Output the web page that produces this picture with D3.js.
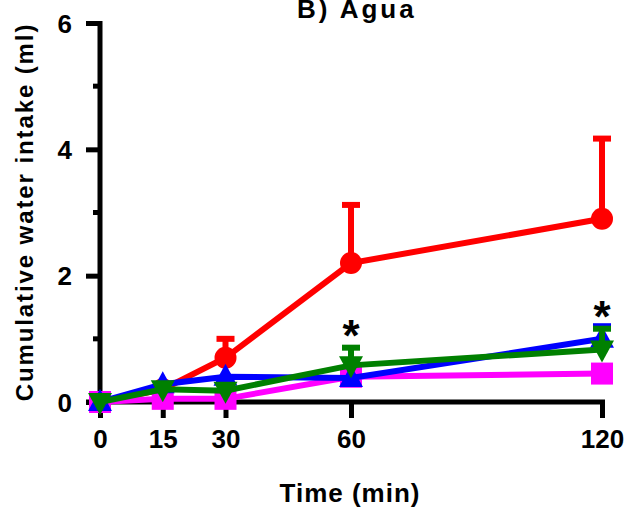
<!DOCTYPE html>
<html><head><meta charset="utf-8">
<script src="https://cdn.jsdelivr.net/npm/d3@7/dist/d3.min.js"></script>
<style>body{margin:0;background:#fff}svg{display:block;font-family:"Liberation Sans",Arial,sans-serif;font-weight:bold}</style>
</head><body>
<script>
const times = [0, 15, 30, 60, 120];
const xTicks = [0, 15, 30, 60, 120];
const yTicks = [0, 2, 4, 6];
const yMinor = [1, 3, 5];
const redVals = [0, 0.2, 0.7, 2.2, 2.9];
const redErr = [0, 0, 0.3, 0.92, 1.27];
const blueVals = [0, 0.28, 0.4, 0.38, 1.0];
const blueErr = [0, 0, 0, 0, 0.2];
const magentaVals = [0, 0.05, 0.05, 0.4, 0.45];
const magentaErr = [0, 0, 0, 0, 0];
const greenVals = [0, 0.2, 0.18, 0.58, 0.83];
const greenErr = [0, 0, 0, 0.28, 0.33];
const starTimes = [60, 120];
const starVals = [0.87, 1.17];

const W = 626, H = 509;
const svg = d3.select("body").append("svg").attr("width", W).attr("height", H);
const x = d3.scaleLinear().domain([0, 120]).range([100, 602]);
const y = d3.scaleLinear().domain([0, 6]).range([402, 23]);

// axes
const yAxis = d3.axisLeft(y).tickValues(yTicks).tickSize(14).tickSizeOuter(0).tickPadding(14).tickFormat(d3.format("d"));
const gy = svg.append("g").attr("transform", "translate(100,0)").call(yAxis);
gy.select(".domain").attr("stroke", "#000").attr("stroke-width", 5).attr("d", `M0,${y(6)-2}V${y(0)+2}`);
gy.selectAll(".tick line").attr("stroke", "#000").attr("stroke-width", 5);
gy.selectAll(".tick text").attr("font-size", 26).attr("font-weight", "bold").attr("fill", "#000").attr("font-family", "Liberation Sans, Arial").attr("dy", "0.35em");
svg.append("g").selectAll("line").data(yMinor).join("line")
  .attr("x1", 93).attr("x2", 100).attr("y1", d => y(d)).attr("y2", d => y(d))
  .attr("stroke", "#000").attr("stroke-width", 5);

const xAxis = d3.axisBottom(x).tickValues(xTicks).tickSize(16).tickSizeOuter(0).tickPadding(12);
const gx = svg.append("g").attr("transform", `translate(0,${y(0)})`).call(xAxis);
gx.select(".domain").attr("stroke", "#000").attr("stroke-width", 5).attr("d", `M86,0H605`);
gx.selectAll(".tick line").attr("stroke", "#000").attr("stroke-width", 5);
gx.selectAll(".tick text").attr("font-size", 26).attr("font-weight", "bold").attr("fill", "#000").attr("font-family", "Liberation Sans, Arial").attr("dy", "0.71em");

// labels
svg.append("text").attr("x", 297).attr("y", 18).attr("font-size", 26).attr("letter-spacing", 3).text("B) Agua");
svg.append("text").attr("x", 350).attr("y", 502).attr("text-anchor", "middle").attr("font-size", 26).attr("letter-spacing", 1).text("Time (min)");
svg.append("text").attr("transform", "translate(33,212) rotate(-90)").attr("text-anchor", "middle").attr("font-size", 24).attr("letter-spacing", 1.9).text("Cumulative water intake (ml)");

const series = [
  {name: "red", color: "#ff0000", vals: redVals, err: redErr, shape: "circle"},
  {name: "magenta", color: "#ff00ff", vals: magentaVals, err: magentaErr, shape: "square"},
  {name: "blue", color: "#0000ff", vals: blueVals, err: blueErr, shape: "up"},
  {name: "green", color: "#008000", vals: greenVals, err: greenErr, shape: "down"},
];
const line = d3.line().x(d => x(d.t)).y(d => y(d.v));
series.forEach(s => {
  const pts = times.map((t, i) => ({t, v: s.vals[i], e: s.err[i]}));
  const g = svg.append("g");
  pts.filter(p => p.e > 0).forEach(p => {
    g.append("line").attr("x1", x(p.t)).attr("x2", x(p.t)).attr("y1", y(p.v)).attr("y2", y(p.v + p.e)).attr("stroke", s.color).attr("stroke-width", 6);
    g.append("line").attr("x1", x(p.t) - 9).attr("x2", x(p.t) + 9).attr("y1", y(p.v + p.e)).attr("y2", y(p.v + p.e)).attr("stroke", s.color).attr("stroke-width", 6);
  });
  g.append("path").datum(pts).attr("d", line).attr("fill", "none").attr("stroke", s.color).attr("stroke-width", 6);
  pts.forEach(p => {
    const cx = x(p.t), cy = y(p.v);
    if (s.shape === "circle") g.append("circle").attr("cx", cx).attr("cy", cy).attr("r", 11).attr("fill", s.color);
    else if (s.shape === "square") g.append("rect").attr("x", cx - 11).attr("y", cy - 11).attr("width", 22).attr("height", 22).attr("fill", s.color);
    else if (s.shape === "up") g.append("path").attr("d", `M${cx},${cy-13}L${cx+12},${cy+9}L${cx-12},${cy+9}Z`).attr("fill", s.color);
    else g.append("path").attr("d", `M${cx},${cy+13}L${cx+12},${cy-9}L${cx-12},${cy-9}Z`).attr("fill", s.color);
  });
});

svg.append("g").selectAll("text").data(starTimes).join("text")
  .attr("x", d => x(d)).attr("y", (d, i) => y(starVals[i]) + 4)
  .attr("text-anchor", "middle").attr("font-size", 44).text("*");
</script>
</body></html>
